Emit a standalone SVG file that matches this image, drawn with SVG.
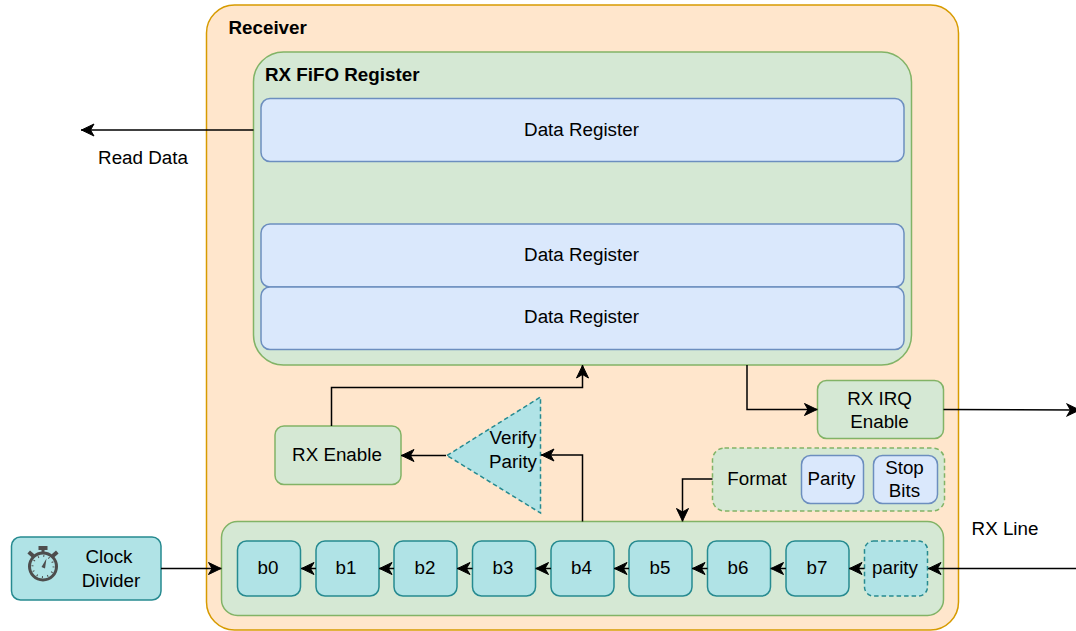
<svg xmlns="http://www.w3.org/2000/svg" width="1076" height="631" viewBox="0 0 1076 631">
<style>
text{font-family:"Liberation Sans",Arial,sans-serif;font-size:18.8px;fill:#000;text-anchor:middle}
.b{font-weight:bold;text-anchor:start}
.o{fill:#ffe6cc;stroke:#d79b00;stroke-width:1.5}
.g{fill:#d5e8d4;stroke:#82b366;stroke-width:1.5}
.bl{fill:#dae8fc;stroke:#6c8ebf;stroke-width:1.5}
.t{fill:#b0e3e6;stroke:#268a90;stroke-width:1.5}
.d{stroke-dasharray:4.5 3}
.c{fill:none;stroke:#000;stroke-width:1.5}
</style>
<defs>
<marker id="a" markerUnits="userSpaceOnUse" markerWidth="16" markerHeight="16" refX="14" refY="8" orient="auto">
<path d="M1 2L13.500 8L1 14L4.500 8Z" fill="#000" stroke="#000" stroke-width="1"/>
</marker>
</defs>
<g id="receiver"><rect class="o" x="206.500" y="5" width="752" height="625" rx="28"/><text class="b" x="228.500" y="34">Receiver</text></g>
<g id="fifo"><rect class="g" x="253.500" y="52" width="658" height="313" rx="30"/><text class="b" x="265" y="81">RX FiFO Register</text></g>
<g id="dr1"><rect class="bl" x="261" y="98.500" width="643" height="63" rx="9"/><text x="581.500" y="136">Data Register</text></g>
<g id="dr2"><rect class="bl" x="261" y="224" width="643" height="63" rx="9"/><text x="581.500" y="261">Data Register</text></g>
<g id="dr3"><rect class="bl" x="261" y="287" width="643" height="62.500" rx="9"/><text x="581.500" y="323">Data Register</text></g>
<g id="rxenable"><rect class="g" x="275" y="426" width="126" height="58.500" rx="9"/><text x="337" y="461">RX Enable</text></g>
<g id="verify"><polygon class="t d" points="447,455.500 540.500,397 540.500,513"/><text x="513" y="444">Verify</text><text x="513" y="468">Parity</text></g>
<g id="irq"><rect class="g" x="817.500" y="380.500" width="126" height="58" rx="9"/><text x="879.500" y="405">RX IRQ</text><text x="879.500" y="428">Enable</text></g>
<g id="format"><rect class="g d" x="712.500" y="448" width="232" height="63" rx="12"/><text x="757" y="485">Format</text></g>
<g id="parityf"><rect class="bl" x="801.500" y="455.500" width="62" height="48" rx="9"/><text x="831.500" y="485">Parity</text></g>
<g id="stop"><rect class="bl" x="873.500" y="455.500" width="64" height="48" rx="9"/><text x="904.500" y="474">Stop</text><text x="904.500" y="497">Bits</text></g>
<g id="shift"><rect class="g" x="221.500" y="521.500" width="722" height="94" rx="16"/></g>
<g id="clock"><rect class="t" x="11.500" y="537" width="149.500" height="63" rx="9"/>
<g fill="#4d4d4d"><rect x="38.500" y="546" width="9" height="4"/><rect x="41.500" y="549" width="3" height="4"/><rect x="28" y="552" width="6" height="4" transform="rotate(40 31 554)"/><rect x="52" y="552" width="6" height="4" transform="rotate(-40 55 554)"/><path d="M41.500 567L46.500 558.500L45 568.500Z"/></g>
<circle cx="43" cy="566.500" r="13.500" fill="none" stroke="#4d4d4d" stroke-width="3"/>
<circle cx="43" cy="566.500" r="10.500" fill="none" stroke="#4d4d4d" stroke-width="2" stroke-dasharray="1 4.500"/>
<text x="109" y="563">Clock</text><text x="111" y="587">Divider</text></g>
<g id="b0"><rect class="t" x="237.500" y="541" width="63" height="55" rx="9"/><text x="268" y="574">b0</text></g>
<g id="b1"><rect class="t" x="316" y="541" width="63" height="55" rx="9"/><text x="346" y="574">b1</text></g>
<g id="b2"><rect class="t" x="394" y="541" width="63" height="55" rx="9"/><text x="425" y="574">b2</text></g>
<g id="b3"><rect class="t" x="472.500" y="541" width="63" height="55" rx="9"/><text x="503" y="574">b3</text></g>
<g id="b4"><rect class="t" x="551" y="541" width="63" height="55" rx="9"/><text x="581.500" y="574">b4</text></g>
<g id="b5"><rect class="t" x="629" y="541" width="63" height="55" rx="9"/><text x="660" y="574">b5</text></g>
<g id="b6"><rect class="t" x="707.500" y="541" width="63" height="55" rx="9"/><text x="738" y="574">b6</text></g>
<g id="b7"><rect class="t" x="786" y="541" width="63" height="55" rx="9"/><text x="817" y="574">b7</text></g>
<g id="parity"><rect class="t d" x="864.500" y="541" width="63" height="55" rx="9"/><text x="895" y="574">parity</text></g>
<g id="connectors">
<path class="c" marker-end="url(#a)" d="M253.500 130H81"/>
<path class="c" marker-end="url(#a)" d="M331.500 426V387.500H582.500V365"/>
<path class="c" marker-end="url(#a)" d="M747 365V409.500H817.500"/>
<path class="c" marker-end="url(#a)" d="M943.500 409.500L1080 410"/>
<path class="c" marker-end="url(#a)" d="M446 455.500H401"/>
<path class="c" marker-end="url(#a)" d="M582.500 521.500V455H541"/>
<path class="c" marker-end="url(#a)" d="M712.500 479H682.500V521.500"/>
<path class="c" marker-end="url(#a)" d="M161 568.500H221.500"/>
<path class="c" marker-end="url(#a)" d="M316 568.500H301"/>
<path class="c" marker-end="url(#a)" d="M394 568.500H379"/>
<path class="c" marker-end="url(#a)" d="M472.500 568.500H457"/>
<path class="c" marker-end="url(#a)" d="M551 568.500H535.500"/>
<path class="c" marker-end="url(#a)" d="M629 568.500H614"/>
<path class="c" marker-end="url(#a)" d="M707.500 568.500H692"/>
<path class="c" marker-end="url(#a)" d="M786 568.500H770.500"/>
<path class="c" marker-end="url(#a)" d="M864.500 568.500H849"/>
<path class="c" marker-end="url(#a)" d="M1076 568.500H928"/>
</g>
<text x="143" y="164">Read Data</text>
<text x="1005" y="535">RX Line</text>
</svg>
